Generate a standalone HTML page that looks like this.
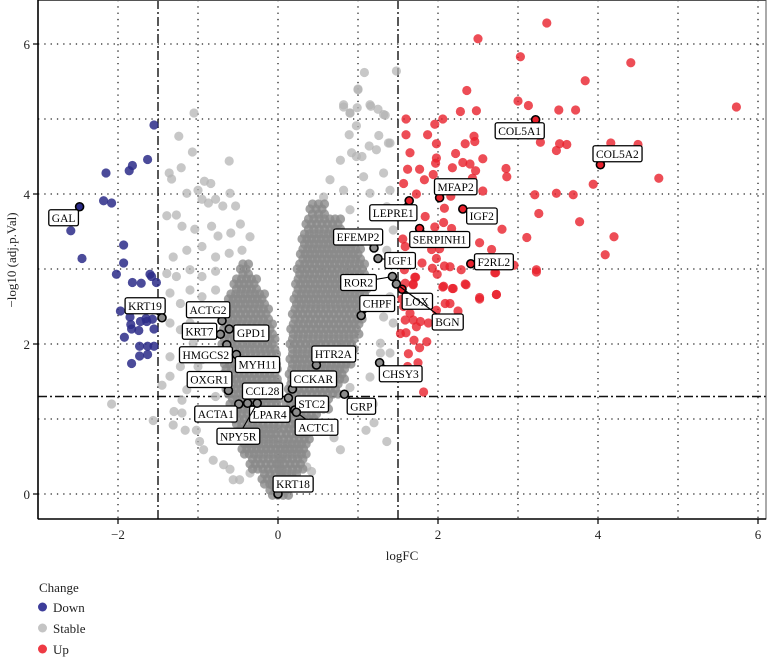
<!DOCTYPE html>
<html><head><meta charset="utf-8"><style>
html,body{margin:0;padding:0;background:#fff;}
svg{display:block;font-family:"Liberation Serif",serif;}
</style></head><body>
<svg id="chart" width="771" height="658" viewBox="0 0 771 658">
<g id="grid"></g>
<g id="thresh"></g>
<g id="pts0"></g>
<g id="core"></g>
<g id="pts"></g>
<g id="lbls"></g>
<g id="axes"></g>
<g id="legend"></g>
</svg>
<script>
const xTicks=[-2,0,2,4,6];
const yTicks=[0,2,4,6];
const gridX=[-2,-1,0,1,2,3,4,5,6];
const gridY=[0,1,2,3,4,5,6];
const fcCut=[-1.5,1.5];
const pCut=1.3;
const coreY=[0.05,0.2,0.4,0.6,0.8,1.0,1.2,1.4,1.6,1.8,2.0,2.2,2.4,2.6,2.8,3.0,3.2,3.4,3.6,3.8];
const coreLMin=[-0.1,-0.2,-0.35,-0.45,-0.5,-0.55,-0.6,-0.65,-0.68,-0.7,-0.7,-0.68,-0.66,-0.62,-0.55,-0.47,null,null,null,null];
const coreLMax=[0.1,0.0,-0.02,-0.03,-0.03,-0.02,-0.02,-0.03,-0.04,-0.05,-0.07,-0.1,-0.15,-0.2,-0.3,-0.4,null,null,null,null];
const coreRMin=[null,0.02,0.02,0.03,0.04,0.06,0.1,0.13,0.14,0.15,0.15,0.16,0.18,0.2,0.22,0.24,0.28,0.3,0.35,0.4];
const coreRMax=[null,0.2,0.28,0.32,0.36,0.45,0.6,0.72,0.8,0.88,0.92,0.98,1.02,1.05,1.08,1.05,1.0,0.9,0.75,0.55];
const downFC=[-1.55,-1.63,-1.82,-1.86,-2.15,-2.18,-2.08,-2.59,-2.45,-1.93,-1.93,-2.02,-1.6,-1.58,-1.82,-1.71,-1.52,-1.97,-1.85,-1.65,-1.64,-1.72,-1.84,-1.74,-1.83,-1.57,-1.55,-1.92,-1.73,-1.63,-1.55,-1.73,-1.63,-1.83];
const downP=[4.92,4.46,4.38,4.31,4.28,3.91,3.88,3.51,3.14,3.32,3.08,2.93,2.93,2.9,2.82,2.81,2.82,2.44,2.36,2.34,2.3,2.3,2.26,2.18,2.2,2.33,2.2,2.09,1.97,1.97,1.97,1.84,1.86,1.74];
const upFC=[3.36,2.5,3.03,4.41,3.84,2.36,3.0,3.13,3.51,3.72,2.28,2.48,5.73,1.6,2.06,1.96,1.6,1.87,1.98,2.34,2.45,2.46,3.28,3.52,3.61,3.48,4.16,4.5,1.65,2.22,2.56,1.98,1.97,2.31,2.4,1.62,1.77,2.18,2.47,2.85,2.86,4.76,3.94,1.94,1.83,1.57,2.43,2.56,3.21,3.48,3.69,1.73,2.16,2.08,3.26,3.77,4.2,2.8,3.11,2.52,2.67,4.09,2.95,3.23,2.72,1.84,1.96,2.07,2.17,1.92,2.02,1.8,1.93,1.98,2.08,2.15,2.29,2.34,2.52,2.73,2.06,2.19,1.72,1.69,1.58,1.59,1.56,1.71,1.99,2.71,3.23,1.69,1.59,2.07,2.18,2.35,2.52,2.73,2.09,2.15,1.57,1.65,1.98,2.25,1.59,1.69,1.78,1.88,1.73,1.53,1.86,1.77,1.63,1.75,1.82,1.55,1.6,1.62,1.7];
const upP=[6.28,6.07,5.83,5.75,5.51,5.38,5.24,5.18,5.12,5.12,5.1,5.11,5.16,5.0,5.0,4.93,4.79,4.79,4.67,4.67,4.77,4.7,4.69,4.67,4.66,4.58,4.68,4.66,4.55,4.54,4.47,4.48,4.41,4.42,4.4,4.33,4.33,4.35,4.31,4.34,4.23,4.21,4.13,4.26,4.19,4.14,4.21,4.04,3.99,4.01,3.99,4.0,3.97,3.81,3.74,3.63,3.43,3.53,3.42,3.35,3.26,3.19,3.05,2.99,2.95,3.7,3.56,3.62,3.54,3.26,3.27,3.08,3.01,3.14,3.04,3.03,2.99,2.8,2.62,2.66,2.76,2.74,2.89,2.8,2.99,3.3,3.4,2.89,2.93,2.95,2.96,2.79,2.81,2.77,2.74,2.79,2.6,2.66,2.54,2.54,2.5,2.41,2.45,2.44,2.32,2.32,2.3,2.28,2.23,2.14,2.03,1.95,1.87,1.75,1.36,2.6,2.15,1.7,2.05];
const stFC=[-1.05,-1.24,-1.07,-0.61,-1.36,-1.21,-1.33,-0.92,-0.84,-1.0,-1.14,-0.6,-1.39,-1.27,-0.95,-0.87,-0.78,-0.69,-0.53,-1.2,-1.04,-0.83,-0.75,-0.59,-0.47,-0.35,-1.31,-1.14,-0.95,-0.78,-0.61,-0.45,-1.39,-1.27,-1.1,-0.95,-0.78,-1.35,-1.22,-1.1,-0.95,-0.87,-0.78,-1.35,-1.22,-1.1,-0.95,-1.06,-1.35,-1.22,-1.0,-0.95,-1.35,-1.14,-0.95,-0.78,-2.08,-1.56,-1.2,-1.31,-1.16,-1.02,-0.98,-0.93,-0.81,-0.68,-0.6,-0.56,-0.48,-0.35,0.42,0.36,0.78,1.36,1.19,0.9,1.0,1.48,1.08,1.0,0.82,0.9,1.16,1.25,1.34,0.99,0.98,0.89,1.26,1.38,1.14,0.92,1.05,0.82,0.9,1.15,1.32,0.78,0.98,1.23,1.4,1.32,1.07,0.65,0.82,1.15,1.4,0.57,0.9,1.23,1.44,1.36,1.36,1.47,1.4,1.32,1.44,1.28,1.4,1.47,1.28,1.15,1.03,-1.45,-1.3,-1.2,-0.3,-0.25,0.6,0.7,1.1,1.2];
const stP=[5.08,4.77,4.56,4.44,4.28,4.35,4.2,4.17,4.14,4.05,4.01,4.01,3.71,3.72,3.93,3.88,3.93,3.84,3.84,3.57,3.53,3.57,3.44,3.48,3.6,3.43,3.16,3.25,3.3,3.16,3.21,3.25,2.94,2.9,2.99,2.9,2.97,2.68,2.54,2.72,2.63,2.46,2.72,2.28,2.19,2.28,2.14,2.01,1.83,1.7,1.7,1.79,1.57,1.39,1.48,1.3,1.2,0.98,1.08,0.92,0.85,0.85,0.7,0.59,0.45,0.39,0.33,0.19,0.19,0.28,0.3,0.36,0.59,0.7,1.2,1.42,5.39,5.64,5.62,5.4,5.16,5.08,5.17,5.13,5.05,5.15,4.91,4.79,4.78,4.68,4.64,4.55,4.5,5.19,5.08,5.19,5.06,4.45,4.5,4.59,4.68,4.28,4.23,4.19,4.05,4.01,4.05,3.96,3.79,3.7,3.52,3.83,3.25,3.08,2.63,2.36,2.28,2.01,1.88,1.61,1.88,1.56,1.21,1.45,1.1,1.25,0.95,0.8,0.9,0.75,0.85,0.95];
const genes=["GAL","KRT19","ACTG2","KRT7","GPD1","HMGCS2","MYH11","OXGR1","CCL28","ACTA1","LPAR4","NPY5R","STC2","ACTC1","KRT18","CCKAR","HTR2A","GRP","CHSY3","CHPF","ROR2","LOX","BGN","IGF1","EFEMP2","LEPRE1","SERPINH1","MFAP2","IGF2","F2RL2","COL5A1","COL5A2"];
const geneFC=[-2.48,-1.45,-0.7,-0.72,-0.61,-0.64,-0.52,-0.62,0.13,-0.49,-0.38,-0.26,0.21,0.23,0.0,0.18,0.48,0.83,1.27,1.04,1.43,1.55,1.48,1.25,1.2,1.64,1.77,2.02,2.31,2.41,3.22,4.03];
const geneP=[3.83,2.35,2.31,2.13,2.2,1.99,1.86,1.38,1.28,1.2,1.21,1.21,1.12,1.09,0.0,1.4,1.72,1.33,1.75,2.38,2.9,2.73,2.8,3.14,3.28,3.91,3.54,3.95,3.8,3.07,4.99,4.39];
const labelDX=[-16,-17,-14,-21,22,-21,21,-19,-26,-23,22,-19,17,20,15,21,17,17,21,16,-34,15,51,22,-16,-16,20,16,19,23,-16,17];
const labelDY=[11,-12,-11,-3,4,10,10,-11,-7,10,11,33,-6,15,-10,-10,-11,12,11,-12,6,12,38,2,-11,12,11,-11,7,-2,11,-11];

const NS="http://www.w3.org/2000/svg";
const X0=278,KX=80,Y0=494,KY=75,L=38,R=766,T=0,B=519;
function sx(v){return X0+KX*v;}
function sy(v){return Y0-KY*v;}
function mk(tag,attrs,parent){const e=document.createElementNS(NS,tag);for(const k in attrs)e.setAttribute(k,attrs[k]);parent.appendChild(e);return e;}
const $=id=>document.getElementById(id);

gridX.forEach(v=>{const l=mk('line',{x1:sx(v),x2:sx(v),y1:T,y2:B,stroke:'#222','stroke-width':1.3,'stroke-dasharray':'1.3,5'},$('grid'));

});
gridY.forEach(v=>{const l=mk('line',{x1:L,x2:R,y1:sy(v),y2:sy(v),stroke:'#222','stroke-width':1.3,'stroke-dasharray':'1.3,5'},$('grid'));

});
fcCut.forEach(v=>{const l=mk('line',{x1:sx(v),x2:sx(v),y1:T,y2:B,stroke:'#111','stroke-width':1.4,'stroke-dasharray':'9,3,2,3'},$('thresh'));

});
{const l=mk('line',{x1:L,x2:R,y1:sy(pCut),y2:sy(pCut),stroke:'#111','stroke-width':1.4,'stroke-dasharray':'9,3,2,3'},$('thresh'));

}

for(let i=0;i<stFC.length;i++){const c=mk('circle',{cx:sx(stFC[i]),cy:sy(stP[i]),r:4.6,fill:'#b4b4b4','fill-opacity':0.75},$('pts0'));

}
// dense core: overlapping dots along each band
for(let i=0;i<coreY.length;i++){
  [[coreLMin[i],coreLMax[i]],[coreRMin[i],coreRMax[i]]].forEach(p=>{
    if(p[0]===null)return;
    const x1=sx(p[0]),x2=sx(p[1]);
    const n=Math.max(1,Math.round((x2-x1)/5));
    [-5,0,5].forEach(off=>{
      for(let k=0;k<=n;k++){
        const c=mk('circle',{cx:x1+(x2-x1)*k/n+(off===0?0:2.5),cy:sy(coreY[i])+off,r:4.6,fill:'#8a8a8a','fill-opacity':0.8},$('core'));
        
        
      }
    });
  });
}
for(let i=0;i<downFC.length;i++){const c=mk('circle',{cx:sx(downFC[i]),cy:sy(downP[i]),r:4.6,fill:'#2b2b88','fill-opacity':0.85},$('pts'));

}
for(let i=0;i<upFC.length;i++){const c=mk('circle',{cx:sx(upFC[i]),cy:sy(upP[i]),r:4.6,fill:'#e8202c','fill-opacity':0.8},$('pts'));

}

for(let i=0;i<genes.length;i++){
  const px=sx(geneFC[i]),py=sy(geneP[i]);
  const col=geneFC[i]>=1.5?'#e8202c':(geneFC[i]<=-1.5?'#2b2b88':'#8c8c8c');
  const g=mk('g',{},$('lbls'));
  
  
  const cx=px+labelDX[i],cy=py+labelDY[i];
  mk('line',{x1:px,y1:py,x2:cx,y2:cy,stroke:'#000','stroke-width':1.1},g);
  const c=mk('circle',{cx:px,cy:py,r:4,fill:col,stroke:'#000','stroke-width':1.6},g);
  
  
  const rect=mk('rect',{fill:'#fff',stroke:'#000','stroke-width':1.3,rx:2},g);
  const t=mk('text',{x:cx,y:cy+4,'text-anchor':'middle','font-size':11.5,fill:'#000'},g);
  t.textContent=genes[i];
  const bb=t.getBBox();
  rect.setAttribute('x',bb.x-3);rect.setAttribute('y',cy-8);
  rect.setAttribute('width',bb.width+6);rect.setAttribute('height',16);
}

const ax=$('axes');
mk('rect',{x:L,y:T+0.5,width:R-L,height:B-T-0.5,fill:'none',stroke:'#555','stroke-width':1},ax);
mk('line',{x1:L,x2:L,y1:T,y2:B,stroke:'#000','stroke-width':1.6},ax);
mk('line',{x1:L,x2:R,y1:B,y2:B,stroke:'#000','stroke-width':1.6},ax);
xTicks.forEach(v=>{mk('line',{x1:sx(v),x2:sx(v),y1:B,y2:B+5,stroke:'#000','stroke-width':1.2},ax);
const t=mk('text',{x:sx(v),y:B+20,'text-anchor':'middle','font-size':13,fill:'#222'},ax);


t.textContent=(v<0?'\u2212'+(-v):String(v));});
yTicks.forEach(v=>{mk('line',{x1:L-5,x2:L,y1:sy(v),y2:sy(v),stroke:'#000','stroke-width':1.2},ax);
const t=mk('text',{x:L-8,y:sy(v)+5,'text-anchor':'end','font-size':13,fill:'#222'},ax);


t.textContent=String(v);});
{const t=mk('text',{x:(L+R)/2,y:560,'text-anchor':'middle','font-size':13,fill:'#222'},ax);


t.textContent='logFC';}
{const t=mk('text',{x:0,y:0,'text-anchor':'middle','font-size':13,fill:'#222',transform:'translate(16,260) rotate(-90)'},ax);


t.textContent='\u2212log10 (adj.p.Val)';}

const lg=$('legend');
{const t=mk('text',{x:39,y:592,'font-size':13,fill:'#222'},lg);


t.textContent='Change';}
const legNames=['Down','Stable','Up'],legCols=['#3d3d9a','#c4c4c4','#ee3a44'];
legNames.forEach((n,i)=>{const g=mk('g',{},lg);


const y=607+i*21;
mk('circle',{cx:42.5,cy:y,r:4.5,fill:legCols[i]},g);
const t=mk('text',{x:53,y:y+5,'font-size':13,fill:'#222'},g);t.textContent=n;});
</script>
</body></html>
